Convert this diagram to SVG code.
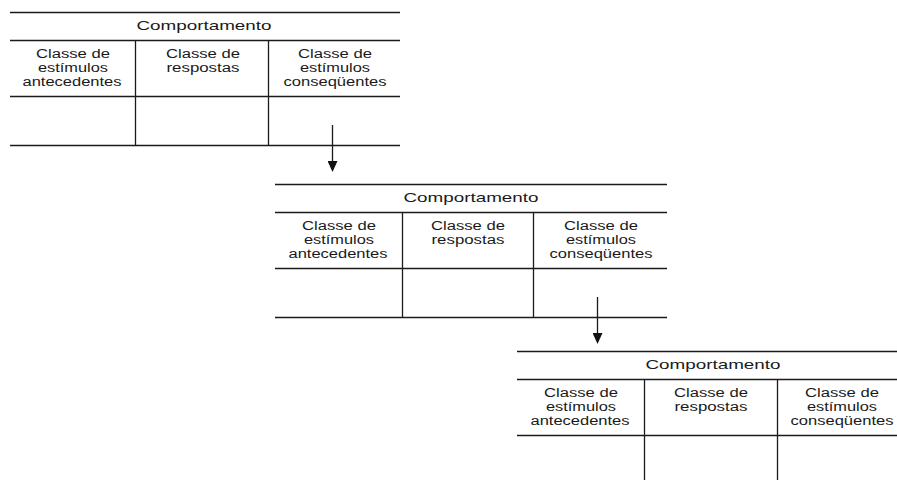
<svg xmlns="http://www.w3.org/2000/svg" width="897" height="480" viewBox="0 0 897 480">
<defs>
<style>
.ln{stroke:#1a1a1a;stroke-width:1.3;fill:none}
.hd{font-family:"Liberation Sans",Arial,sans-serif;font-size:13.5px;fill:#1a1a1a;text-anchor:middle}
.tx{font-family:"Liberation Sans",Arial,sans-serif;font-size:12px;fill:#1a1a1a;text-anchor:middle}
</style>
<marker id="ah" viewBox="0 0 11 10" refX="0" refY="5" markerWidth="11" markerHeight="10" markerUnits="userSpaceOnUse" orient="auto">
<path d="M0,0 L11,5 L0,10 z" fill="#111"/>
</marker>
</defs>
<rect width="897" height="480" fill="#fff"/>

<g id="table1">
<path class="ln" d="M10,12.5H400M10,40.5H400M10,96.5H400M10,145.5H400M135.5,40.5V145.5M268.5,40.5V145.5"/>
<text class="hd" x="204" y="30" textLength="135" lengthAdjust="spacingAndGlyphs">Comportamento</text>
<text class="tx" x="73" y="58" textLength="74" lengthAdjust="spacingAndGlyphs">Classe de</text>
<text class="tx" x="73" y="72" textLength="70" lengthAdjust="spacingAndGlyphs">estímulos</text>
<text class="tx" x="72" y="86" textLength="99" lengthAdjust="spacingAndGlyphs">antecedentes</text>
<text class="tx" x="203" y="58" textLength="74" lengthAdjust="spacingAndGlyphs">Classe de</text>
<text class="tx" x="203" y="72" textLength="73" lengthAdjust="spacingAndGlyphs">respostas</text>
<text class="tx" x="335" y="58" textLength="74" lengthAdjust="spacingAndGlyphs">Classe de</text>
<text class="tx" x="335" y="72" textLength="70" lengthAdjust="spacingAndGlyphs">estímulos</text>
<text class="tx" x="335" y="86" textLength="103" lengthAdjust="spacingAndGlyphs">conseqüentes</text>
</g>

<g id="table2">
<path class="ln" d="M275,184.5H667M275,212.5H667M275,268.5H667M275,317.5H667M402.5,212.5V317.5M533.5,212.5V317.5"/>
<text class="hd" x="471" y="202" textLength="135" lengthAdjust="spacingAndGlyphs">Comportamento</text>
<text class="tx" x="339" y="230" textLength="74" lengthAdjust="spacingAndGlyphs">Classe de</text>
<text class="tx" x="339" y="244" textLength="70" lengthAdjust="spacingAndGlyphs">estímulos</text>
<text class="tx" x="338" y="258" textLength="99" lengthAdjust="spacingAndGlyphs">antecedentes</text>
<text class="tx" x="468" y="230" textLength="74" lengthAdjust="spacingAndGlyphs">Classe de</text>
<text class="tx" x="468" y="244" textLength="73" lengthAdjust="spacingAndGlyphs">respostas</text>
<text class="tx" x="601" y="230" textLength="74" lengthAdjust="spacingAndGlyphs">Classe de</text>
<text class="tx" x="601" y="244" textLength="70" lengthAdjust="spacingAndGlyphs">estímulos</text>
<text class="tx" x="601" y="258" textLength="103" lengthAdjust="spacingAndGlyphs">conseqüentes</text>
</g>

<g id="table3">
<path class="ln" d="M517,351.5H897M517,379.5H897M517,435.5H897M644.5,379.5V480M777.5,379.5V480"/>
<text class="hd" x="713" y="369" textLength="135" lengthAdjust="spacingAndGlyphs">Comportamento</text>
<text class="tx" x="581" y="397" textLength="74" lengthAdjust="spacingAndGlyphs">Classe de</text>
<text class="tx" x="581" y="411" textLength="70" lengthAdjust="spacingAndGlyphs">estímulos</text>
<text class="tx" x="580" y="425" textLength="99" lengthAdjust="spacingAndGlyphs">antecedentes</text>
<text class="tx" x="711" y="397" textLength="74" lengthAdjust="spacingAndGlyphs">Classe de</text>
<text class="tx" x="711" y="411" textLength="73" lengthAdjust="spacingAndGlyphs">respostas</text>
<text class="tx" x="842" y="397" textLength="74" lengthAdjust="spacingAndGlyphs">Classe de</text>
<text class="tx" x="842" y="411" textLength="70" lengthAdjust="spacingAndGlyphs">estímulos</text>
<text class="tx" x="842" y="425" textLength="103" lengthAdjust="spacingAndGlyphs">conseqüentes</text>
</g>

<g id="connectors">
<path class="ln" d="M332.5,125V161" marker-end="url(#ah)"/>
<path class="ln" d="M597.5,297V333" marker-end="url(#ah)"/>
</g>
</svg>
